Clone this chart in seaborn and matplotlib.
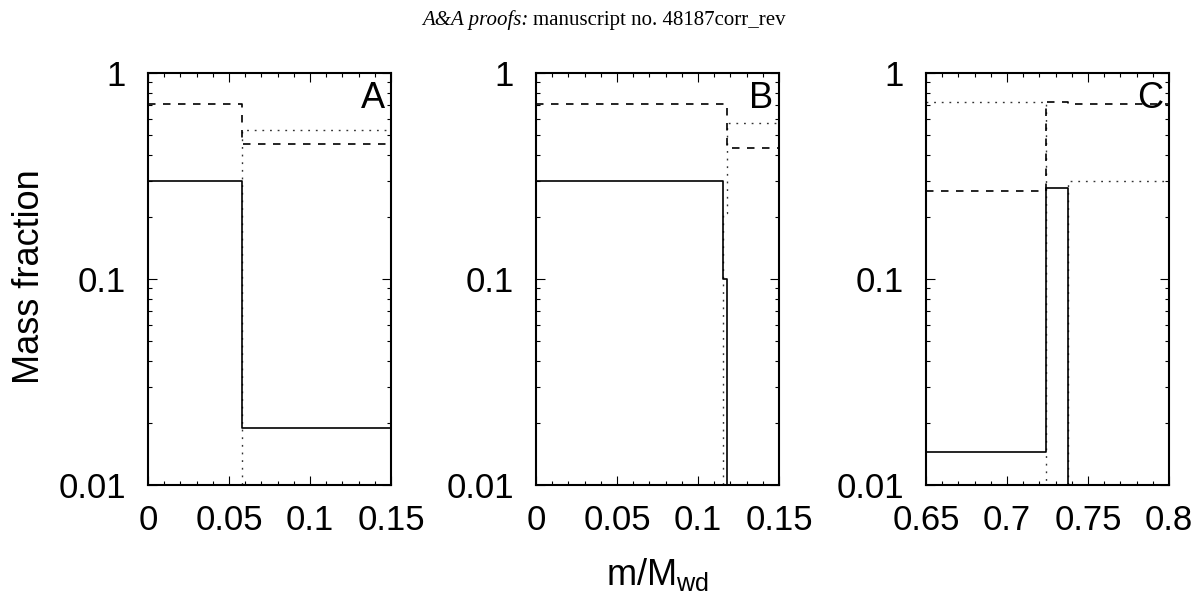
import numpy as np
import pandas as pd
import matplotlib
matplotlib.use("Agg")
import matplotlib.pyplot as plt
import seaborn as sns
from matplotlib.ticker import LogLocator, MultipleLocator, NullFormatter

# step edges and segment values for each panel (mass fraction)
# 1e-4 means "below the plotted range"
edgesA = [0.0, 0.058, 0.15]
solidA = [0.30, 0.0189]
dashedA = [0.706, 0.451]
dottedA = [1e-4, 0.528]

edgesB = [0.0, 0.1157, 0.1178, 0.15]
solidB = [0.30, 0.10, 1e-4]
dashedB = [0.706, 0.706, 0.432]
dottedB = [1e-4, 0.208, 0.571]

edgesC = [0.65, 0.7238, 0.7377, 0.80]
solidC = [0.0144, 0.277, 1e-4]
dashedC = [0.267, 0.725, 0.704]
dottedC = [0.72, 1e-4, 0.30]

panelNames = ['A', 'B', 'C']
xlimits = [(0, 0.15), (0, 0.15), (0.65, 0.80)]
xtickVals = [[0, 0.05, 0.1, 0.15], [0, 0.05, 0.1, 0.15], [0.65, 0.7, 0.75, 0.8]]
xtickLabels = [['0', '0.05', '0.1', '0.15'], ['0', '0.05', '0.1', '0.15'],
               ['0.65', '0.7', '0.75', '0.8']]
ytickVals = [0.01, 0.1, 1]
ytickLabels = ['0.01', '0.1', '1']

sns.set_style("ticks")
plt.rcParams['font.family'] = ['Liberation Sans', 'DejaVu Sans']
plt.rcParams['mathtext.fontset'] = 'custom'
plt.rcParams['mathtext.rm'] = 'Liberation Sans'
plt.rcParams['mathtext.it'] = 'Liberation Sans:italic'
plt.rcParams['text.color'] = 'black'
plt.rcParams['xtick.color'] = 'black'
plt.rcParams['ytick.color'] = 'black'
plt.rcParams['xtick.labelcolor'] = 'black'
plt.rcParams['ytick.labelcolor'] = 'black'


def step_frame(edges, values):
    # repeat the last value so that steps-post reaches the right edge
    return pd.DataFrame({'m': edges, 'X': list(values) + [values[-1]]})


panels = [
    (edgesA, solidA, dashedA, dottedA),
    (edgesB, solidB, dashedB, dottedB),
    (edgesC, solidC, dashedC, dottedC),
]
lefts = [148 / 1200, 536 / 1200, 926 / 1200]

fig = plt.figure(figsize=(12, 5.98), dpi=100)

for i, (edges, solid, dashed, dotted) in enumerate(panels):
    ax = fig.add_axes([lefts[i], 1 - 485 / 598, 243 / 1200, 412 / 598])

    dfDot = step_frame(edges, dotted)
    dfDash = step_frame(edges, dashed)
    dfSolid = step_frame(edges, solid)

    sns.lineplot(data=dfDot, x='m', y='X', ax=ax, color='#333333', lw=1.0,
                 linestyle=(0, (1.3, 4.2)), drawstyle='steps-post', sort=False,
                 estimator=None)
    sns.lineplot(data=dfDash, x='m', y='X', ax=ax, color='black', lw=1.2,
                 linestyle=(0, (4.5, 4.5)), drawstyle='steps-post', sort=False,
                 estimator=None)
    sns.lineplot(data=dfSolid, x='m', y='X', ax=ax, color='black', lw=1.2,
                 drawstyle='steps-post', sort=False, estimator=None)

    ax.set_yscale('log')
    ax.set_ylim(0.01, 1)
    ax.set_xlim(*xlimits[i])
    ax.set_xlabel('')
    ax.set_ylabel('')

    ax.set_xticks(xtickVals[i], xtickLabels[i])
    ax.set_yticks(ytickVals, ytickLabels)
    ax.xaxis.set_minor_locator(MultipleLocator(0.01))
    ax.yaxis.set_minor_locator(LogLocator(base=10, subs=np.arange(2, 10)))
    ax.yaxis.set_minor_formatter(NullFormatter())

    ax.tick_params(which='both', direction='in', top=True, right=True,
                   width=0.8, color='black')
    ax.tick_params(which='major', length=6.5, labelsize=25)
    ax.tick_params(axis='x', which='major', pad=14)
    ax.tick_params(axis='y', which='major', pad=16)
    ax.tick_params(which='minor', length=3.2)
    for sp in ax.spines.values():
        sp.set_linewidth(1.5)
        sp.set_color('black')

    ax.text(0.975, 0.98, panelNames[i], transform=ax.transAxes,
            ha='right', va='top', fontsize=26)

# shared labels
fig.text(30 / 1200, 1 - 277 / 598, 'Mass fraction', rotation=90,
         ha='center', va='center', fontsize=26)
fig.text(658 / 1200, 1 - 585 / 598, r'm/M$_{\rm wd}$',
         ha='center', va='baseline', fontsize=26)

# page header
fig.text(529 / 1200, 1 - 25 / 598, 'A&A proofs:', ha='right', va='baseline',
         fontsize=15, family='Liberation Serif', style='italic')
fig.text(533 / 1200, 1 - 25 / 598, 'manuscript no. 48187corr_rev', ha='left',
         va='baseline', fontsize=15, family='Liberation Serif')

fig.savefig('out.png', dpi=100)
